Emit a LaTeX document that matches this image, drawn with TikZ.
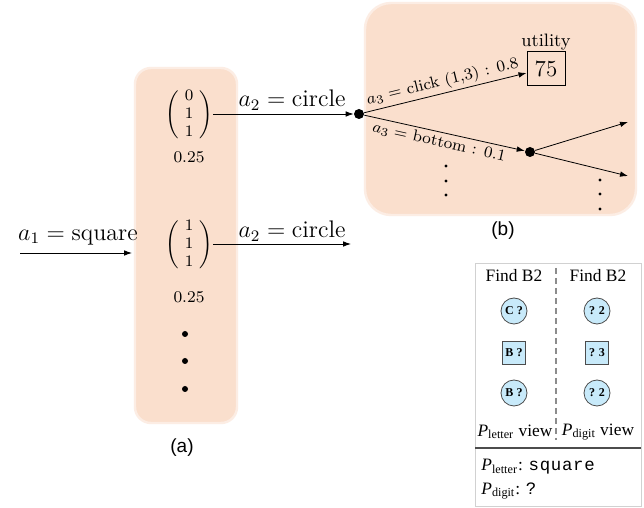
\documentclass[tikz,border=0pt]{standalone}
\usepackage{amsmath}
\usepackage{fontspec}
\newfontfamily\timesf{Liberation Serif}
\newfontfamily\arialf{Liberation Sans}
\newfontfamily\courf{Liberation Mono}
\usetikzlibrary{arrows.meta}
\definecolor{peach}{RGB}{250,223,205}
\definecolor{lblue}{RGB}{200,234,250}
\newcommand\Pl{{\itshape P}\textsubscript{letter}}
\newcommand\Pd{{\itshape P}\textsubscript{digit}}
\newcommand\colvec[3]{$\arraycolsep=3pt\renewcommand\arraystretch{1.0}\left(\begin{array}{c}#1\\#2\\#3\end{array}\right)$}
\begin{document}
\begin{tikzpicture}[x=0.5pt,y=-0.5pt,
  panel/.style={fill=peach, draw=peach!55!white, line width=1.2pt},
  arr/.style={-{Latex[length=4pt,width=2.8pt]}, line width=0.4pt},
  bigdot/.style={circle, fill=black, inner sep=0pt, minimum size=5pt},
  smalldot/.style={circle, fill=black, inner sep=0pt, minimum size=1.7pt},
  dotA/.style={circle, fill=black, inner sep=0pt, minimum size=3pt},
  lab/.style={font=\fontsize{12}{14}\selectfont, inner sep=1pt},
  vec/.style={inner sep=0pt, font=\fontsize{8.3}{8.8}\selectfont},
  prob/.style={font=\fontsize{8.2}{10}\selectfont},
  brlab/.style={font=\fontsize{8.1}{10}\selectfont, inner sep=1.5pt},
  subcap/.style={font=\arialf\fontsize{9.5}{11}\selectfont},
  cell/.style={draw=black!70, fill=lblue, inner sep=0pt, line width=0.4pt, font=\timesf\bfseries\fontsize{6}{7}\selectfont},
  ccell/.style={cell, circle, minimum size=13pt},
  scell/.style={cell, rectangle, minimum size=11.5pt},
  tfont/.style={font=\timesf\fontsize{8.7}{10}\selectfont, inner sep=1pt}
]
\useasboundingbox (0,0) rectangle (644,508);
\fill[white] (0,0) rectangle (644,508);

% panels
\draw[panel, rounded corners=8pt] (135,68) rectangle (237,423);
\draw[panel, rounded corners=13pt] (365,3) rectangle (636,215);

% panel (a)
\node[vec] (v1) at (189,115) {\colvec{0}{1}{1}};
\node[prob] (p1) at (189,157) {0.25};
\node[vec] (v2) at (189,245) {\colvec{1}{1}{1}};
\node[prob] (p2) at (189,297) {0.25};
\node[dotA] (da1) at (185,334) {};
\node[dotA] (da2) at (185,361) {};
\node[dotA] (da3) at (185,389) {};
\node[subcap] (capa) at (182,448) {(a)};

\coordinate (s1) at (20,253);
\coordinate (e1) at (132,253);
\draw[arr] (s1) -- (e1);
\node[lab] (l1) at (78,237) {$a_1 = \text{square}$};

\node[bigdot] (d1) at (359,114) {};
\draw[arr] (v1.east |- d1) -- (d1);
\node[lab] (l2) at (292,100) {$a_2 = \text{circle}$};

\coordinate (e2) at (351,244);
\draw[arr] (v2.east |- e2) -- (e2);
\node[lab] (l3) at (292,231) {$a_2 = \text{circle}$};

% panel (b)
\node[draw, line width=0.5pt, minimum width=19pt, minimum height=17pt, inner sep=0pt,
      font=\fontsize{11.5}{13}\selectfont] (u) at (546,69) {75};
\node[font=\fontsize{9}{11}\selectfont, inner sep=0pt] (ut) at (546,42) {utility};
\node[bigdot] (d2) at (530,152) {};
\draw[arr] (d1) -- node[midway, above, sloped, brlab] {$a_3 =$ click (1,3) : 0.8} (u.west |- 0,73);
\draw[arr] (d1) -- node[pos=0.48, below, sloped, brlab] {$a_3 =$ bottom : $0.1$} (d2);
\coordinate (t1) at (628,122);
\coordinate (t2) at (628,176);
\draw[arr] (d2) -- (t1);
\draw[arr] (d2) -- (t2);
\node[smalldot] (db1) at (446,166) {};
\node[smalldot] (db2) at (446,181) {};
\node[smalldot] (db3) at (446,195) {};
\node[smalldot] (dc1) at (600,180) {};
\node[smalldot] (dc2) at (600,194) {};
\node[smalldot] (dc3) at (600,209) {};
\node[subcap] (capb) at (503,231) {(b)};

% bottom-right panel
\draw[black!18, line width=0.4pt] (475,263) rectangle (641,506);
\draw[black!45, line width=0.6pt, dash pattern=on 3pt off 2pt] (556,268) -- (556,440);
\draw[black!70, line width=0.7pt] (475,448) -- (641,448);
\node[tfont] (f1) at (514,276) {Find B2};
\node[tfont] (f2) at (598,276) {Find B2};
\node[ccell] (c1) at (514,311) {C ?};
\node[scell] (c2) at (514,353) {B ?};
\node[ccell] (c3) at (514,393) {B ?};
\node[ccell] (c4) at (597,311) {? 2};
\node[scell] (c5) at (597,353) {? 3};
\node[ccell] (c6) at (597,393) {? 2};
\node[tfont] (vl) at (515,432) {\Pl{} view};
\node[tfont] (vd) at (598,432) {\Pd{} view};
\node[tfont, anchor=west] (ls) at (479,467) {\Pl: \courf\fontsize{8.7}{10}\selectfont\addfontfeature{LetterSpace=4}square};
\node[tfont, anchor=west] (lsd) at (479,491) {\Pd: \courf\fontsize{8.7}{10}\selectfont ?};
\end{tikzpicture}
\end{document}
